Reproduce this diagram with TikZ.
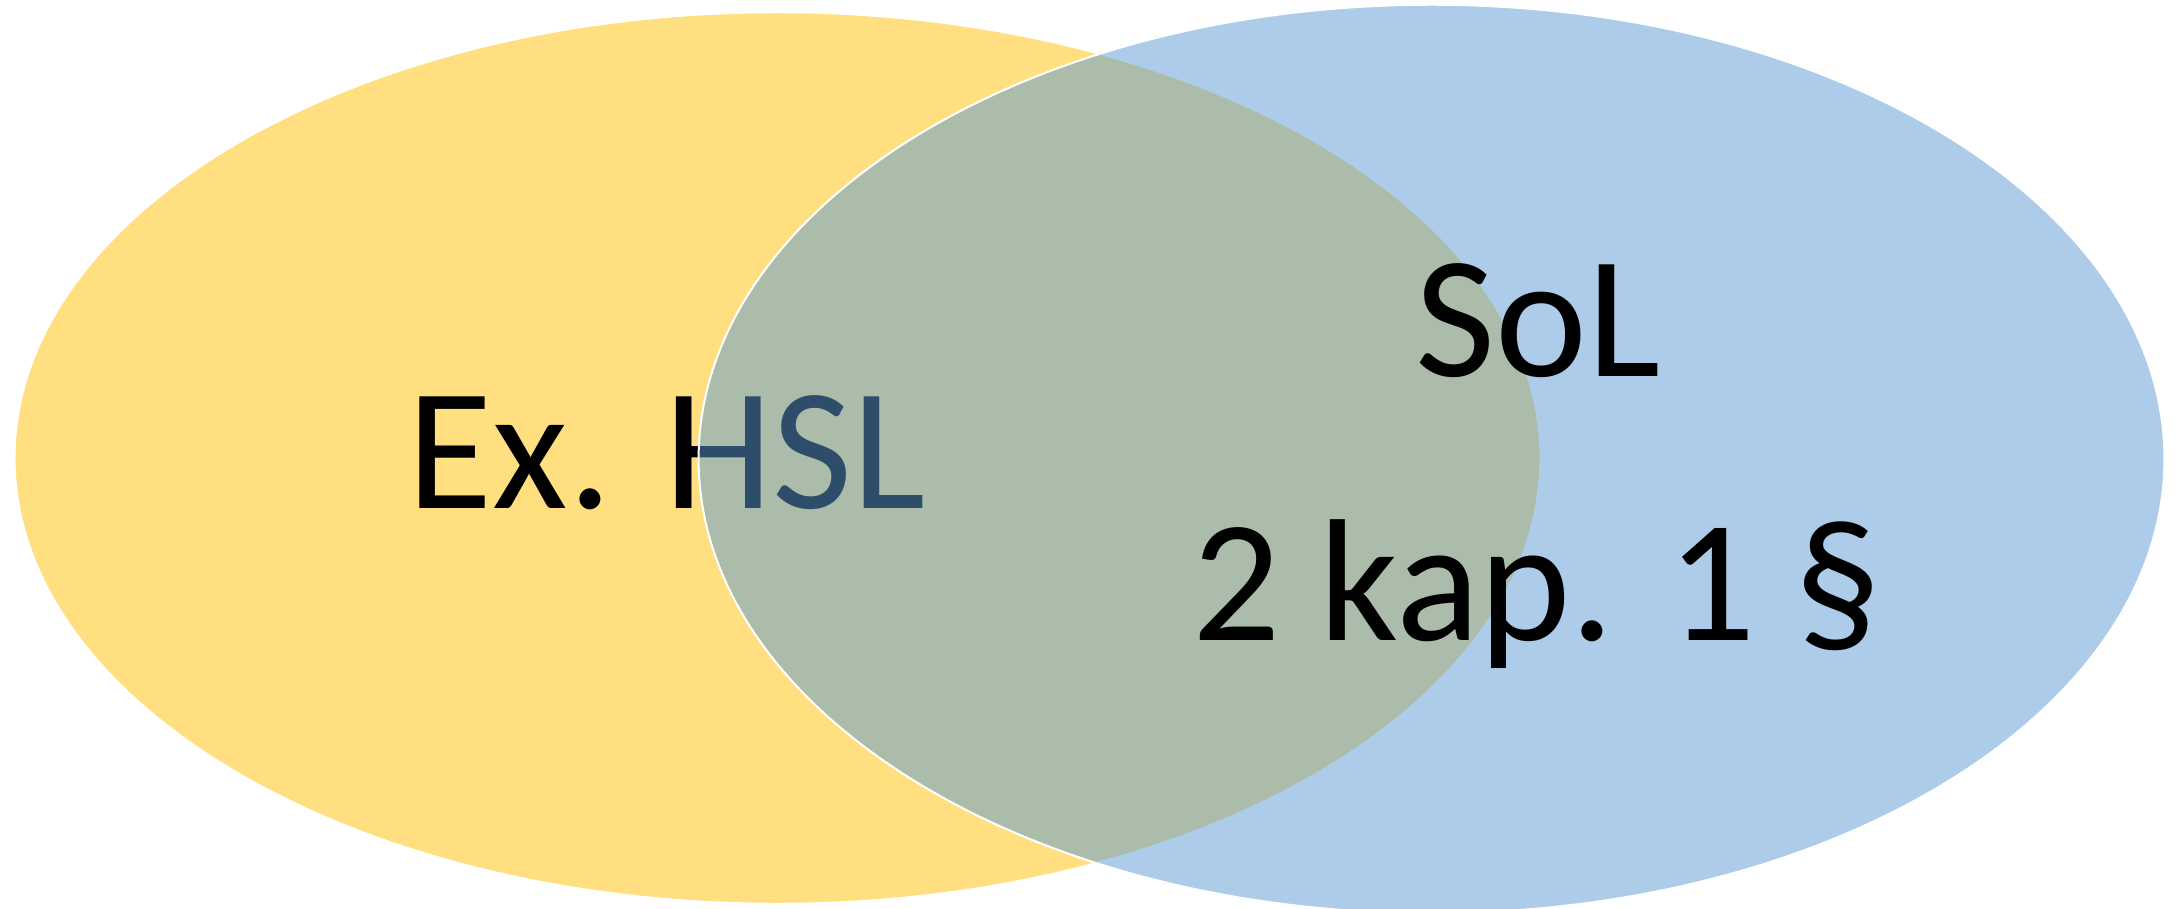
\documentclass[tikz,border=0pt]{standalone}
\usepackage{fontspec}
\setmainfont{Carlito}
\usetikzlibrary{shapes.geometric}
\definecolor{vyellow}{HTML}{FFC000}
\definecolor{vblue}{HTML}{5B9BD5}
\begin{document}
\begin{tikzpicture}[x=0.01cm,y=-0.01cm,
  setshape/.style={ellipse, draw=white, line width=0.02cm, fill opacity=0.5, draw opacity=1, inner sep=0pt, outer sep=0pt},
  lbl/.style={font=\fontsize{49.5pt}{59pt}\selectfont, inner sep=0pt, anchor=base, text=black}]
\useasboundingbox (0,0) rectangle (2175,909);
\fill[white] (0,0) rectangle (2175,909);
\node[setshape, fill=vyellow, minimum width=15.25cm, minimum height=8.91cm] (yset) at (777.5,458) {};
\node[lbl] (hsl) at (667,508) {Ex. HSL};
\node[setshape, fill=vblue, minimum width=14.65cm, minimum height=9.08cm] (bset) at (1431.5,459) {};
\node[lbl] (sol) at (1538,376) {SoL};
\node[lbl] (kap) at (1537,640) {2 kap. 1 §};
\end{tikzpicture}
\end{document}
